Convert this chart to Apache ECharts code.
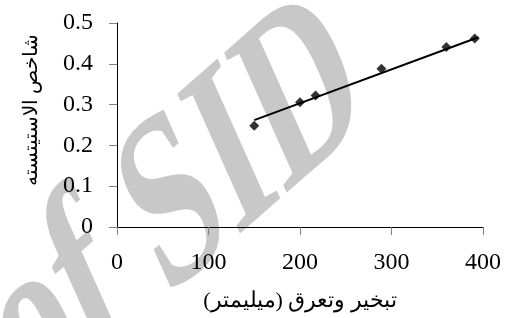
<!DOCTYPE html>
<html lang="ar">
<head>
    <meta charset="UTF-8">
    <script src="https://cdn.jsdelivr.net/npm/echarts@6/dist/echarts.min.js"></script>
    <style>
        html, body { margin: 0; padding: 0; background: #fff; }
    </style>
</head>
<body>
<div id="chart" style="width: 505px;height: 318px"></div>
<script>
    // measured points (x = evapotranspiration mm, y = index)
    var etValues = [150, 200, 217, 289, 360, 391];
    var indexValues = [0.248, 0.306, 0.322, 0.388, 0.441, 0.462];
    // trend line ends
    var trendX = [150, 395];
    var trendY = [0.262, 0.465];

    var xName = 'تبخير وتعرق (ميليمتر)';
    var yName = 'شاخص الاستيتسته';

    var points = etValues.map(function (v, i) { return [v, indexValues[i]]; });
    var trend = trendX.map(function (v, i) { return [v, trendY[i]]; });

    var mycharts = echarts.init(document.getElementById('chart'));
    var serif = '"Liberation Serif", "DejaVu Serif", serif';

    option = {
        animation: false,
        grid: {left: 117, right: 22, top: 23, bottom: 91},
        // grey skewed watermark behind the plot
        graphic: [{
            type: 'group',
            x: 350,
            y: 60,
            scaleY: 1.4,
            z: -10,
            children: [{
                type: 'text',
                rotation: 0.56,
                scaleX: 0.82,
                z: -10,
                style: {
                    text: 'of SID',
                    font: 'bold 180px ' + serif,
                    fill: '#c8c8c8',
                    align: 'right',
                    verticalAlign: 'middle'
                }
            }]
        }],
        xAxis: {
            type: 'value',
            min: 0,
            max: 400,
            interval: 100,
            name: xName,
            nameLocation: 'middle',
            nameGap: 63,
            nameTextStyle: {fontSize: 22, color: '#000', fontFamily: serif},
            axisLine: {lineStyle: {color: '#000', width: 1}},
            axisTick: {show: true, length: 8, lineStyle: {color: '#808080'}},
            axisLabel: {fontSize: 24, color: '#000', fontFamily: serif, margin: 24},
            splitLine: {show: false}
        },
        yAxis: {
            type: 'value',
            min: 0,
            max: 0.5,
            interval: 0.1,
            name: yName,
            nameLocation: 'middle',
            nameGap: 75,
            nameTextStyle: {fontSize: 20, color: '#000', fontFamily: serif, padding: [0, 0, 0, 30]},
            axisLine: {show: true, lineStyle: {color: '#000', width: 1}},
            axisTick: {show: true, length: 8, lineStyle: {color: '#808080'}},
            axisLabel: {fontSize: 24, color: '#000', fontFamily: serif, margin: 24},
            splitLine: {show: false}
        },
        series: [{
            type: 'line',
            data: trend,
            symbol: 'none',
            lineStyle: {color: '#000', width: 2},
            z: 3
        }, {
            type: 'scatter',
            data: points,
            symbol: 'diamond',
            symbolSize: 10,
            itemStyle: {color: '#000'},
            z: 4
        }]
    };

    mycharts.setOption(option);
</script>
</body>
</html>
